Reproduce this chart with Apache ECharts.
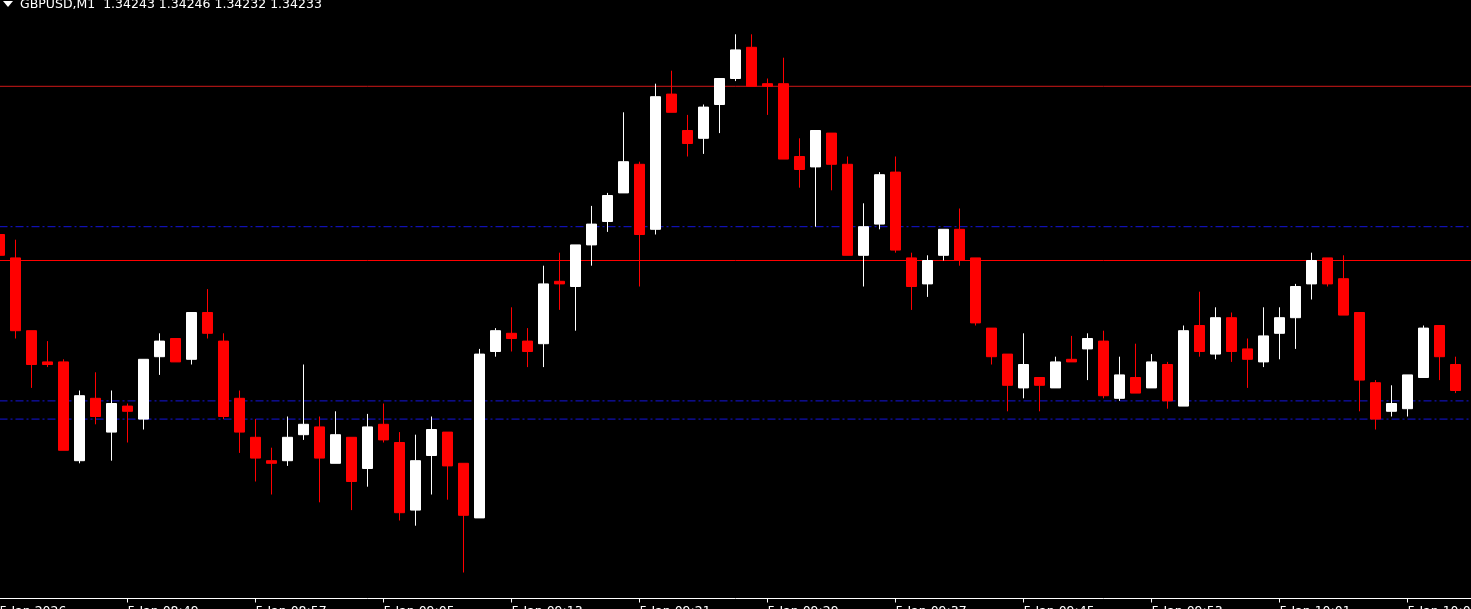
<!DOCTYPE html>
<html>
<head>
<meta charset="utf-8">
<script src="https://cdn.jsdelivr.net/npm/echarts@6/dist/echarts.min.js"></script>
<style>
  html, body { margin: 0; padding: 0; background: #000; }
  #chart { width: 1471px; height: 609px; }
</style>
</head>
<body>
<div id="chart"></div>
<script>
// GBPUSD M1, 5 Jan 2026 08:41 .. 10:12 (one spare slot at the right edge)
const times = [
  "08:41","08:42","08:43","08:44","08:45","08:46","08:47","08:48","08:49","08:50",
  "08:51","08:52","08:53","08:54","08:55","08:56","08:57","08:58","08:59","09:00",
  "09:01","09:02","09:03","09:04","09:05","09:06","09:07","09:08","09:09","09:10",
  "09:11","09:12","09:13","09:14","09:15","09:16","09:17","09:18","09:19","09:20",
  "09:21","09:22","09:23","09:24","09:25","09:26","09:27","09:28","09:29","09:30",
  "09:31","09:32","09:33","09:34","09:35","09:36","09:37","09:38","09:39","09:40",
  "09:41","09:42","09:43","09:44","09:45","09:46","09:47","09:48","09:49","09:50",
  "09:51","09:52","09:53","09:54","09:55","09:56","09:57","09:58","09:59","10:00",
  "10:01","10:02","10:03","10:04","10:05","10:06","10:07","10:08","10:09","10:10",
  "10:11","10:12","10:13"
];

const tickLabels = [
  "5 Jan 2026", "5 Jan 08:49", "5 Jan 08:57", "5 Jan 09:05", "5 Jan 09:13", "5 Jan 09:21",
  "5 Jan 09:29", "5 Jan 09:37", "5 Jan 09:45", "5 Jan 09:53", "5 Jan 10:01", "5 Jan 10:09"
];

const opens = [
  1.34293,1.34284,1.34256,1.34244,1.34244,1.34206,1.34230,1.34217,1.34227,1.34222,
  1.34246,1.34253,1.34245,1.34263,1.34252,1.34230,1.34215,1.34206,1.34206,1.34216,
  1.34219,1.34205,1.34215,1.34203,1.34220,1.34213,1.34187,1.34208,1.34217,1.34205,
  1.34184,1.34248,1.34255,1.34252,1.34251,1.34275,1.34273,1.34289,1.34298,1.34309,
  1.34320,1.34295,1.34347,1.34333,1.34330,1.34343,1.34353,1.34365,1.34351,1.34351,
  1.34323,1.34319,1.34332,1.34320,1.34285,1.34297,1.34317,1.34284,1.34274,1.34285,
  1.34295,1.34284,1.34257,1.34247,1.34234,1.34238,1.34234,1.34245,1.34249,1.34252,
  1.34230,1.34238,1.34234,1.34243,1.34227,1.34258,1.34247,1.34261,1.34249,1.34244,
  1.34255,1.34261,1.34274,1.34284,1.34276,1.34263,1.34236,1.34225,1.34226,1.34238,
  1.34258,1.34243
];
const highs = [
  1.34294,1.34291,1.34256,1.34252,1.34245,1.34233,1.34240,1.34233,1.34228,1.34245,
  1.34255,1.34253,1.34263,1.34272,1.34255,1.34233,1.34222,1.34211,1.34223,1.34243,
  1.34223,1.34225,1.34215,1.34224,1.34228,1.34217,1.34216,1.34223,1.34217,1.34205,
  1.34249,1.34257,1.34265,1.34257,1.34281,1.34286,1.34289,1.34304,1.34309,1.34340,
  1.34321,1.34351,1.34356,1.34339,1.34343,1.34353,1.34370,1.34370,1.34353,1.34361,
  1.34330,1.34333,1.34332,1.34323,1.34305,1.34317,1.34323,1.34286,1.34285,1.34295,
  1.34303,1.34284,1.34257,1.34247,1.34255,1.34238,1.34246,1.34254,1.34255,1.34256,
  1.34246,1.34251,1.34247,1.34244,1.34258,1.34271,1.34265,1.34263,1.34253,1.34265,
  1.34265,1.34274,1.34286,1.34284,1.34285,1.34263,1.34237,1.34235,1.34239,1.34258,
  1.34258,1.34246
];
const lows = [
  1.34285,1.34253,1.34234,1.34242,1.34210,1.34205,1.34220,1.34206,1.34213,1.34218,
  1.34239,1.34244,1.34243,1.34253,1.34222,1.34209,1.34198,1.34193,1.34204,1.34214,
  1.34190,1.34205,1.34187,1.34196,1.34213,1.34183,1.34181,1.34193,1.34191,1.34163,
  1.34184,1.34246,1.34248,1.34242,1.34242,1.34264,1.34256,1.34281,1.34294,1.34309,
  1.34273,1.34293,1.34340,1.34323,1.34324,1.34332,1.34352,1.34350,1.34339,1.34322,
  1.34311,1.34296,1.34310,1.34285,1.34273,1.34295,1.34286,1.34264,1.34269,1.34283,
  1.34281,1.34258,1.34243,1.34225,1.34230,1.34225,1.34234,1.34244,1.34237,1.34230,
  1.34229,1.34232,1.34234,1.34226,1.34227,1.34246,1.34245,1.34244,1.34234,1.34242,
  1.34245,1.34249,1.34268,1.34273,1.34262,1.34225,1.34218,1.34223,1.34223,1.34238,
  1.34237,1.34232
];
const closes = [
  1.34285,1.34256,1.34243,1.34243,1.34210,1.34231,1.34223,1.34228,1.34225,1.34245,
  1.34252,1.34244,1.34263,1.34255,1.34223,1.34217,1.34207,1.34205,1.34215,1.34220,
  1.34207,1.34216,1.34198,1.34219,1.34214,1.34186,1.34206,1.34218,1.34204,1.34185,
  1.34247,1.34256,1.34253,1.34248,1.34274,1.34274,1.34289,1.34297,1.34308,1.34321,
  1.34293,1.34346,1.34340,1.34328,1.34342,1.34353,1.34364,1.34350,1.34350,1.34322,
  1.34318,1.34333,1.34320,1.34285,1.34296,1.34316,1.34287,1.34273,1.34283,1.34295,
  1.34283,1.34259,1.34246,1.34235,1.34243,1.34235,1.34244,1.34244,1.34253,1.34231,
  1.34239,1.34232,1.34244,1.34229,1.34256,1.34248,1.34261,1.34248,1.34245,1.34254,
  1.34261,1.34273,1.34283,1.34274,1.34262,1.34237,1.34222,1.34228,1.34239,1.34257,
  1.34246,1.34233
];

// horizontal levels drawn on the chart
const redLevels = [1.34350, 1.34283];
const blueLevels = [1.34296, 1.34229, 1.34222];

const priceMin = 1.34153;
const priceMax = 1.34383;

const candles = opens.map((o, i) => [o, closes[i], lows[i], highs[i]]);
const last = opens.length - 1;
const header = "GBPUSD,M1  " + [opens[last], highs[last], lows[last], closes[last]]
  .map((v) => v.toFixed(5)).join(" ");

const chartElem = document.getElementById("chart");
const chart = echarts.init(chartElem);

const fontFamily = "DejaVu Sans";

// a flat line across the whole chart for one price level
const levelSeries = (value, color, dash) => ({
  type: "line",
  silent: true,
  symbol: "none",
  data: [[times[0], value], [times[times.length - 1], value]],
  lineStyle: { color: color, width: 1, type: dash },
  z: 1,
});

const options = {
  backgroundColor: "#000000",
  animation: false,
  title: {
    text: header,
    left: 20,
    top: -2,
    padding: 0,
    textStyle: {
      color: "#ffffff",
      fontSize: 12.5,
      fontWeight: "normal",
      fontFamily: fontFamily,
    },
  },
  graphic: [
    {
      type: "polygon",
      shape: { points: [[3, 1], [13, 1], [8, 7]] },
      style: { fill: "#ffffff" },
    },
  ],
  grid: {
    left: -8.5,
    right: -8.5,
    top: 0.5,
    bottom: 10.5,
    containLabel: false,
    outerBoundsMode: "none",
  },
  xAxis: {
    type: "category",
    data: times,
    boundaryGap: true,
    axisLine: {
      show: true,
      lineStyle: { color: "#ffffff", width: 1 },
    },
    axisTick: {
      show: true,
      alignWithLabel: true,
      interval: 7,
      length: 4,
      lineStyle: { color: "#ffffff" },
    },
    axisLabel: {
      interval: 7,
      align: "left",
      margin: 7,
      color: "#ffffff",
      fontSize: 12.5,
      fontFamily: fontFamily,
      formatter: (value, index) => tickLabels[index / 8] || "",
    },
    splitLine: { show: false },
  },
  yAxis: {
    type: "value",
    min: priceMin,
    max: priceMax,
    show: false,
    splitLine: { show: false },
  },
  series: [
    levelSeries(redLevels[0], "#d01818", "solid"),
    levelSeries(redLevels[1], "#ff0000", "solid"),
    ...blueLevels.map((v) => levelSeries(v, "#1414dc", [8, 3, 2, 3])),
    {
      type: "candlestick",
      data: candles,
      barWidth: 10,
      z: 2,
      itemStyle: {
        color: "#ffffff",
        color0: "#ff0000",
        borderColor: "#ffffff",
        borderColor0: "#ff0000",
        borderWidth: 1,
      },
    },
  ],
};

chart.setOption(options);
</script>
</body>
</html>
